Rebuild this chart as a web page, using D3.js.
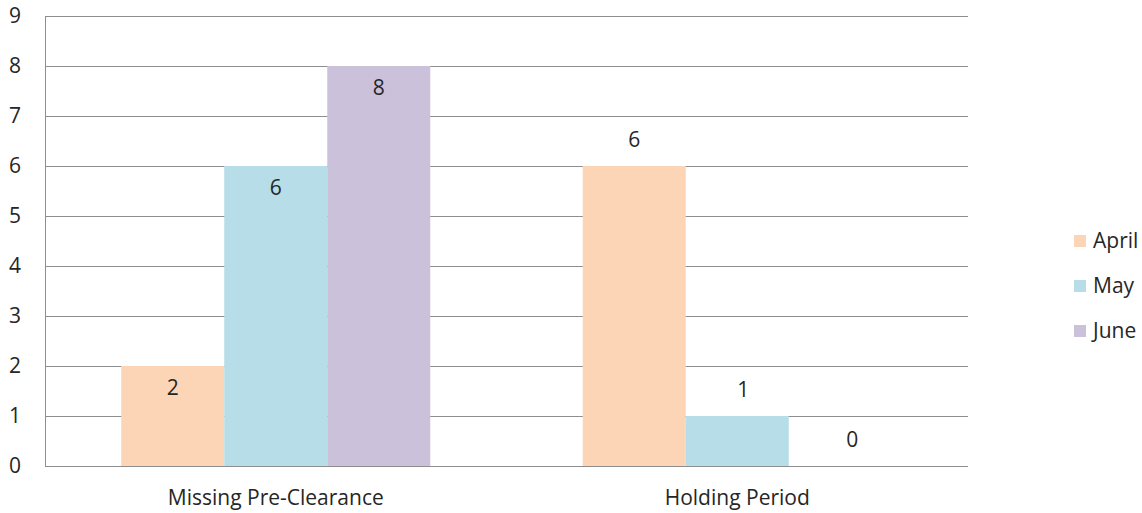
<!DOCTYPE html>
<html>
<head>
<meta charset="utf-8">
<script src="https://cdn.jsdelivr.net/npm/d3@7"></script>
<style>
  body { margin: 0; background: #fff; }
  svg text { font-family: "Open Sans", "Liberation Sans", sans-serif; fill: #262626; }
</style>
</head>
<body>
<svg id="chart" width="1142" height="513"></svg>
<script>
// chart data
const categories = ["Missing Pre-Clearance", "Holding Period"];
const series = ["April", "May", "June"];
const april = [2, 6];
const may = [6, 1];
const june = [8, 0];
const yTicks = [0, 1, 2, 3, 4, 5, 6, 7, 8, 9];
const colors = ["#fbd5b5", "#b7dde8", "#ccc1da"];

const values = [april, may, june];
const rows = [];
categories.forEach((c, ci) => {
  series.forEach((s, si) => rows.push({ cat: c, ci: ci, series: s, si: si, value: values[si][ci] }));
});

const svg = d3.select("#chart");
const plotLeft = 45, plotRight = 968, plotTop = 16, plotBottom = 466;
const fontSize = 21;

// scales
const x0 = d3.scaleBand().domain(categories).range([plotLeft, plotRight]).padding(0);
const x1 = d3.scaleBand().domain(series).range([0, x0.bandwidth()]).paddingInner(0).paddingOuter(0.74);
const y = d3.scaleLinear().domain([0, 9]).range([plotBottom, plotTop]);

// gridlines
svg.append("g")
  .selectAll("line")
  .data(yTicks)
  .join("line")
  .attr("x1", plotLeft).attr("x2", plotRight)
  .attr("y1", d => Math.round(y(d)) + 0.5).attr("y2", d => Math.round(y(d)) + 0.5)
  .attr("stroke", "#8e8e8e").attr("stroke-width", 1);

// left axis line
svg.append("line")
  .attr("x1", plotLeft + 0.5).attr("x2", plotLeft + 0.5)
  .attr("y1", y(9)).attr("y2", y(0))
  .attr("stroke", "#8e8e8e");

// y tick labels
svg.append("g")
  .selectAll("text")
  .data(yTicks)
  .join("text")
  .attr("x", 21)
  .attr("y", d => y(d))
  .attr("dy", "0.35em")
  .attr("text-anchor", "end")
  .attr("font-size", fontSize)
  .text(d => d);

// bars
svg.append("g")
  .selectAll("rect")
  .data(rows)
  .join("rect")
  .attr("x", d => x0(d.cat) + x1(d.series))
  .attr("y", d => y(d.value))
  .attr("width", x1.bandwidth())
  .attr("height", d => y(0) - y(d.value))
  .attr("fill", d => colors[d.si]);

// value labels: first group inside top, second group above
svg.append("g")
  .selectAll("text")
  .data(rows)
  .join("text")
  .attr("x", d => x0(d.cat) + x1(d.series) + x1.bandwidth() / 2 + (d.ci === 1 ? d.si * 6 : 0))
  .attr("y", d => d.ci === 0 ? y(d.value) + 22 : y(d.value) - 26)
  .attr("dy", "0.35em")
  .attr("text-anchor", "middle")
  .attr("font-size", fontSize)
  .text(d => d.value);

// category labels
svg.append("g")
  .selectAll("text")
  .data(categories)
  .join("text")
  .attr("x", d => x0(d) + x0.bandwidth() / 2)
  .attr("y", 498)
  .attr("dy", "0.35em")
  .attr("text-anchor", "middle")
  .attr("font-size", fontSize)
  .text(d => d);

// legend
const legend = svg.append("g")
  .selectAll("g")
  .data(series)
  .join("g")
  .attr("transform", (d, i) => `translate(1074, ${241 + i * 45})`);
legend.append("rect")
  .attr("x", 0).attr("y", -6)
  .attr("width", 12).attr("height", 12)
  .attr("fill", (d, i) => colors[i]);
legend.append("text")
  .attr("x", 19).attr("y", 0)
  .attr("dy", "0.35em")
  .attr("font-size", fontSize)
  .text(d => d);
</script>
</body>
</html>
